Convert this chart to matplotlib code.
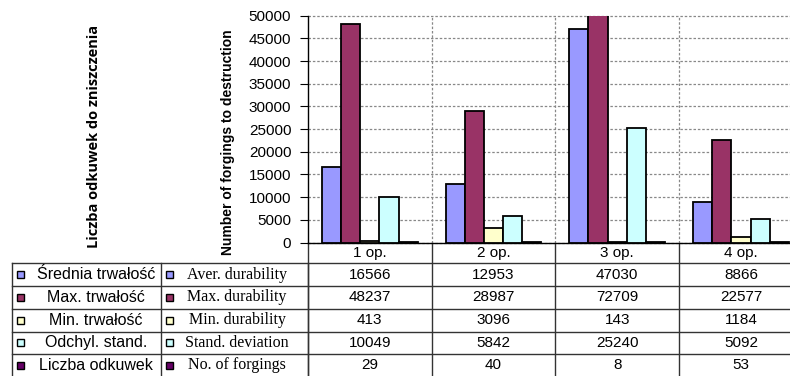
import matplotlib
matplotlib.use('Agg')
import numpy as np
import matplotlib.pyplot as plt
from matplotlib.patches import Rectangle

categories = ['1 op.', '2 op.', '3 op.', '4 op.']
aver_durability = [16566, 12953, 47030, 8866]
max_durability = [48237, 28987, 72709, 22577]
min_durability = [413, 3096, 143, 1184]
stand_deviation = [10049, 5842, 25240, 5092]
no_of_forgings = [29, 40, 8, 53]

labels_pl = ['Średnia trwałość', 'Max. trwałość', 'Min. trwałość', 'Odchyl. stand.', 'Liczba odkuwek']
labels_en = ['Aver. durability', 'Max. durability', 'Min. durability', 'Stand. deviation', 'No. of forgings']
colors = ['#9999FF', '#993366', '#FFFFCC', '#CCFFFF', '#660066']
yticks = list(range(0, 50001, 5000))

series = [aver_durability, max_durability, min_durability, stand_deviation, no_of_forgings]

W, H = 790, 376
fig = plt.figure(figsize=(W / 100, H / 100), dpi=100)

# layout in pixels
x0, cw = 308.0, 123.7          # y axis position, column width
y_zero, y_top = 242.5, 15.7    # pixel rows of 0 and 50000
rows = [263.3, 286.0, 308.7, 331.7, 354.0, 376.5]
leg_x = [12.0, 160.7, x0]

# table / overlay axes in pixel coordinates
tab = fig.add_axes([0, 0, 1, 1])
tab.set_xlim(0, W)
tab.set_ylim(H, 0)
tab.axis('off')

# chart axes
ax = fig.add_axes([x0 / W, (H - y_zero) / H, (W - x0) / W, (y_zero - y_top) / H])
ax.set_facecolor('none')
ax.set_xlim(-0.5, -0.5 + (W - x0) / cw)
ax.set_ylim(0, 50000)

x = np.arange(len(categories))
bw = 0.155
for j, vals in enumerate(series):
    ax.bar(x + (j - 2) * bw, vals, bw, color=colors[j], edgecolor='black',
           linewidth=1.3, zorder=3)

ax.set_yticks(yticks)
ax.set_yticklabels([str(v) for v in yticks], fontsize=11, family='Liberation Sans')
ax.tick_params(axis='y', length=6, width=0.8, pad=6)
ax.set_xticks([])
for v in yticks:
    ax.axhline(v, color='#888888', lw=0.9, ls=(0, (2, 1.5)), zorder=1, clip_on=False)
for b in x[:-1] + 0.5:
    ax.axvline(b, color='#888888', lw=0.9, ls=(0, (2, 1.5)), zorder=1)
for s in ['top', 'right']:
    ax.spines[s].set_visible(False)
ax.spines['left'].set_linewidth(1.0)
ax.spines['bottom'].set_linewidth(1.0)

# axis titles
fig.text(228 / W, 1 - 142 / H, 'Number of forgings to destruction', rotation=90,
         ha='center', va='center', fontsize=10, fontweight='bold',
         family=['Liberation Sans Narrow', 'Liberation Sans'])
fig.text(94 / W, 1 - 136 / H, 'Liczba odkuwek do zniszczenia', rotation=90,
         ha='center', va='center', fontsize=10.5, fontweight='bold', family='Open Sans')

# table lines
line_kw = dict(color='#333333', lw=1.0)
for r in rows[:-1]:
    tab.plot([leg_x[0], W], [r, r], **line_kw)
for lx in leg_x:
    tab.plot([lx, lx], [rows[0], H], **line_kw)
for i in range(len(categories)):
    bx = x0 + (i + 1) * cw
    if bx < W:
        tab.plot([bx, bx], [y_zero, H], **line_kw)
tab.plot([x0, x0], [y_zero, H], **line_kw)

# header row
for i, c in enumerate(categories):
    tab.text(x0 + (i + 0.5) * cw, 253, c, ha='center', va='center',
             fontsize=11, family='Liberation Sans')

# legend rows + values
for k in range(len(series)):
    yc = (rows[k] + rows[k + 1]) / 2
    for mx in (16.5, 165.5):
        tab.add_patch(Rectangle((mx, yc - 3.5), 7, 7, facecolor=colors[k],
                                edgecolor='black', lw=1.0))
    tab.text(96, yc, labels_pl[k], ha='center', va='center', fontsize=11.5,
             family='Liberation Sans')
    tab.text(237, yc, labels_en[k], ha='center', va='center', fontsize=11.5,
             family='Liberation Serif')
    for i, v in enumerate(series[k]):
        tab.text(x0 + (i + 0.5) * cw, yc, str(v), ha='center', va='center',
                 fontsize=11, family='Liberation Sans')

fig.savefig('out.png', dpi=100)
